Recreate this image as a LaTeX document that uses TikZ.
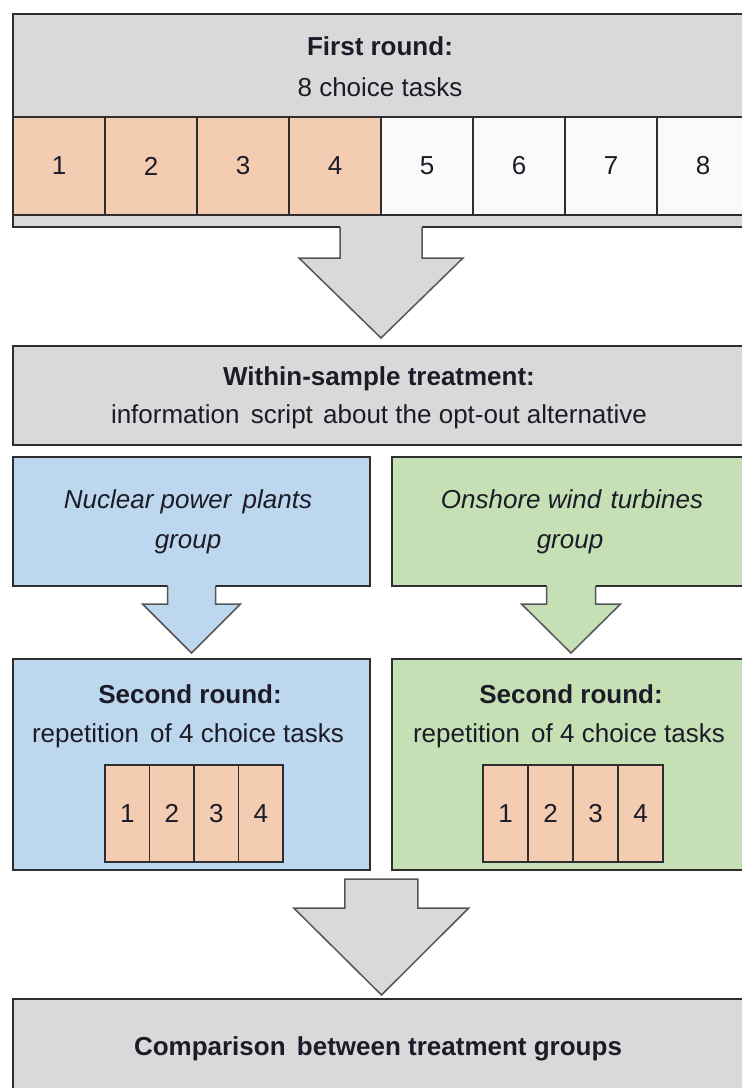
\documentclass[tikz,border=0pt]{standalone}
\usepackage{fontspec}
\setmainfont{Liberation Sans}
\usetikzlibrary{calc}
\definecolor{grayf}{HTML}{D9D9D9}
\definecolor{salmon}{HTML}{F4CCB1}
\definecolor{offwhite}{HTML}{FAFAFA}
\definecolor{bluef}{HTML}{BDD7EE}
\definecolor{greenf}{HTML}{C5E0B4}
\definecolor{linec}{HTML}{2E2E2E}
\definecolor{arrc}{HTML}{555555}
\definecolor{txtc}{HTML}{1C1C28}
\newcommand\fsz{\fontsize{26}{31}\selectfont}
% merged block arrow: #1 start (box bottom), #2 tip, #3 shaft half width, #4 head half width, #5 shoulder offset, #6 fill
\newcommand\mergedarrow[6]{%
  \fill[#6] ($(#1)+(-#3,-2)$) -- ($(#1)+(-#3,#5)$) -- ($(#1)+(-#4,#5)$) -- (#2) -- ($(#1)+(#4,#5)$) -- ($(#1)+(#3,#5)$) -- ($(#1)+(#3,-2)$) -- cycle;
  \draw[arrline] ($(#1)+(-#3,0)$) -- ($(#1)+(-#3,#5)$) -- ($(#1)+(-#4,#5)$) -- (#2) -- ($(#1)+(#4,#5)$) -- ($(#1)+(#3,#5)$) -- ($(#1)+(#3,0)$);
}
\begin{document}
\begin{tikzpicture}[x=1pt,y=-1pt,
  box/.style={draw=linec, line width=1.5pt, inner sep=0pt, outer sep=0pt, rectangle},
  cellbox/.style={box, font=\fsz, text=txtc},
  txt/.style={font=\fsz, text=txtc, inner sep=0pt, anchor=base},
  arrline/.style={draw=arrc, line width=1.5pt, line join=miter},
]
\useasboundingbox (0,0) rectangle (742,1088);
\clip (0,0) rectangle (742,1088);

% ---------- first round ----------
\node[box, fill=grayf, minimum width=736pt, minimum height=213pt] (top) at (381,120.5) {};
\foreach \i in {1,...,4}{
  \node[cellbox, fill=salmon, minimum width=92pt, minimum height=98pt] (c\i) at ({13+92*(\i-0.5)},166) {\i};
}
\foreach \i in {5,...,8}{
  \node[cellbox, fill=offwhite, minimum width=92pt, minimum height=98pt] (c\i) at ({13+92*(\i-0.5)},166) {\i};
}
\node[txt, font=\fsz\bfseries] (t1a) at (380,55) {First round:};
\node[txt] (t1b) at (380,96) {8 choice tasks};

% ---------- treatment ----------
\node[box, fill=grayf, minimum width=736pt, minimum height=99pt] (treat) at (381,395.5) {};
\node[txt, font=\fsz\bfseries] (t2a) at (379,385) {Within-sample treatment:};
\node[txt] (t2b) at (379,423) {information\hspace{4pt} script\hspace{3pt} about the opt-out alternative};

\coordinate (tip1) at ($(treat.north)+(0,-8)$);
\mergedarrow{top.south}{tip1}{41}{82}{31}{grayf}

% ---------- groups ----------
\node[box, fill=bluef, minimum width=357pt, minimum height=129pt] (blue1) at (191.5,521.5) {};
\node[box, fill=greenf, minimum width=358pt, minimum height=129pt] (green1) at (571,521.5) {};
\node[txt, font=\fsz\itshape] (tb1) at (188,508) {Nuclear power\hspace{4pt} plants};
\node[txt, font=\fsz\itshape] (tb2) at (188,548) {group};
\node[txt, font=\fsz\itshape] (tg1) at (572,508) {Onshore wind\hspace{2pt} turbines};
\node[txt, font=\fsz\itshape] (tg2) at (570,548) {group};

% ---------- second round ----------
\node[box, fill=bluef, minimum width=357pt, minimum height=211pt] (blue2) at (191.5,764.5) {};
\node[box, fill=greenf, minimum width=358pt, minimum height=211pt] (green2) at (571,764.5) {};

\coordinate (tip2) at ($(blue2.north)+(0,-6)$);
\mergedarrow{blue1.south}{tip2}{24}{49}{18}{bluef}
\coordinate (tip3) at ($(green2.north)+(0,-6)$);
\mergedarrow{green1.south}{tip3}{24.5}{49.5}{18}{greenf}

\node[txt, font=\fsz\bfseries] (sb1) at (190,703) {Second round:};
\node[txt] (sb2) at (188,742) {repetition\hspace{4pt} of 4 choice tasks};
\node[txt, font=\fsz\bfseries] (sg1) at (571,703) {Second round:};
\node[txt] (sg2) at (569,742) {repetition\hspace{4pt} of 4 choice tasks};

\foreach \i in {1,...,4}{
  \node[cellbox, fill=salmon, minimum width=44.5pt, minimum height=97pt] (bc\i) at ({105+44.5*(\i-0.5)},813.5) {\i};
  \node[cellbox, fill=salmon, minimum width=45pt, minimum height=97pt] (gc\i) at ({483+45*(\i-0.5)},813.5) {\i};
}

% ---------- comparison ----------
\node[box, fill=grayf, minimum width=737pt, minimum height=120pt] (comp) at (381.5,1059) {};
\node[txt, font=\fsz\bfseries] (tc) at (378,1055) {Comparison\hspace{4pt} between treatment groups};

\coordinate (bstart) at ($($(blue2.south)!0.5!(green2.south)$)+(0,9)$);
\coordinate (tip4) at ($(comp.north)+(0,-4)$);
\draw[arrline, fill=grayf] ($(bstart)+(-36.5,0)$) -- ($(bstart)+(-36.5,29)$) -- ($(bstart)+(-87.5,29)$) -- (tip4) -- ($(bstart)+(87.5,29)$) -- ($(bstart)+(36.5,29)$) -- ($(bstart)+(36.5,0)$) -- cycle;
\end{tikzpicture}
\end{document}
